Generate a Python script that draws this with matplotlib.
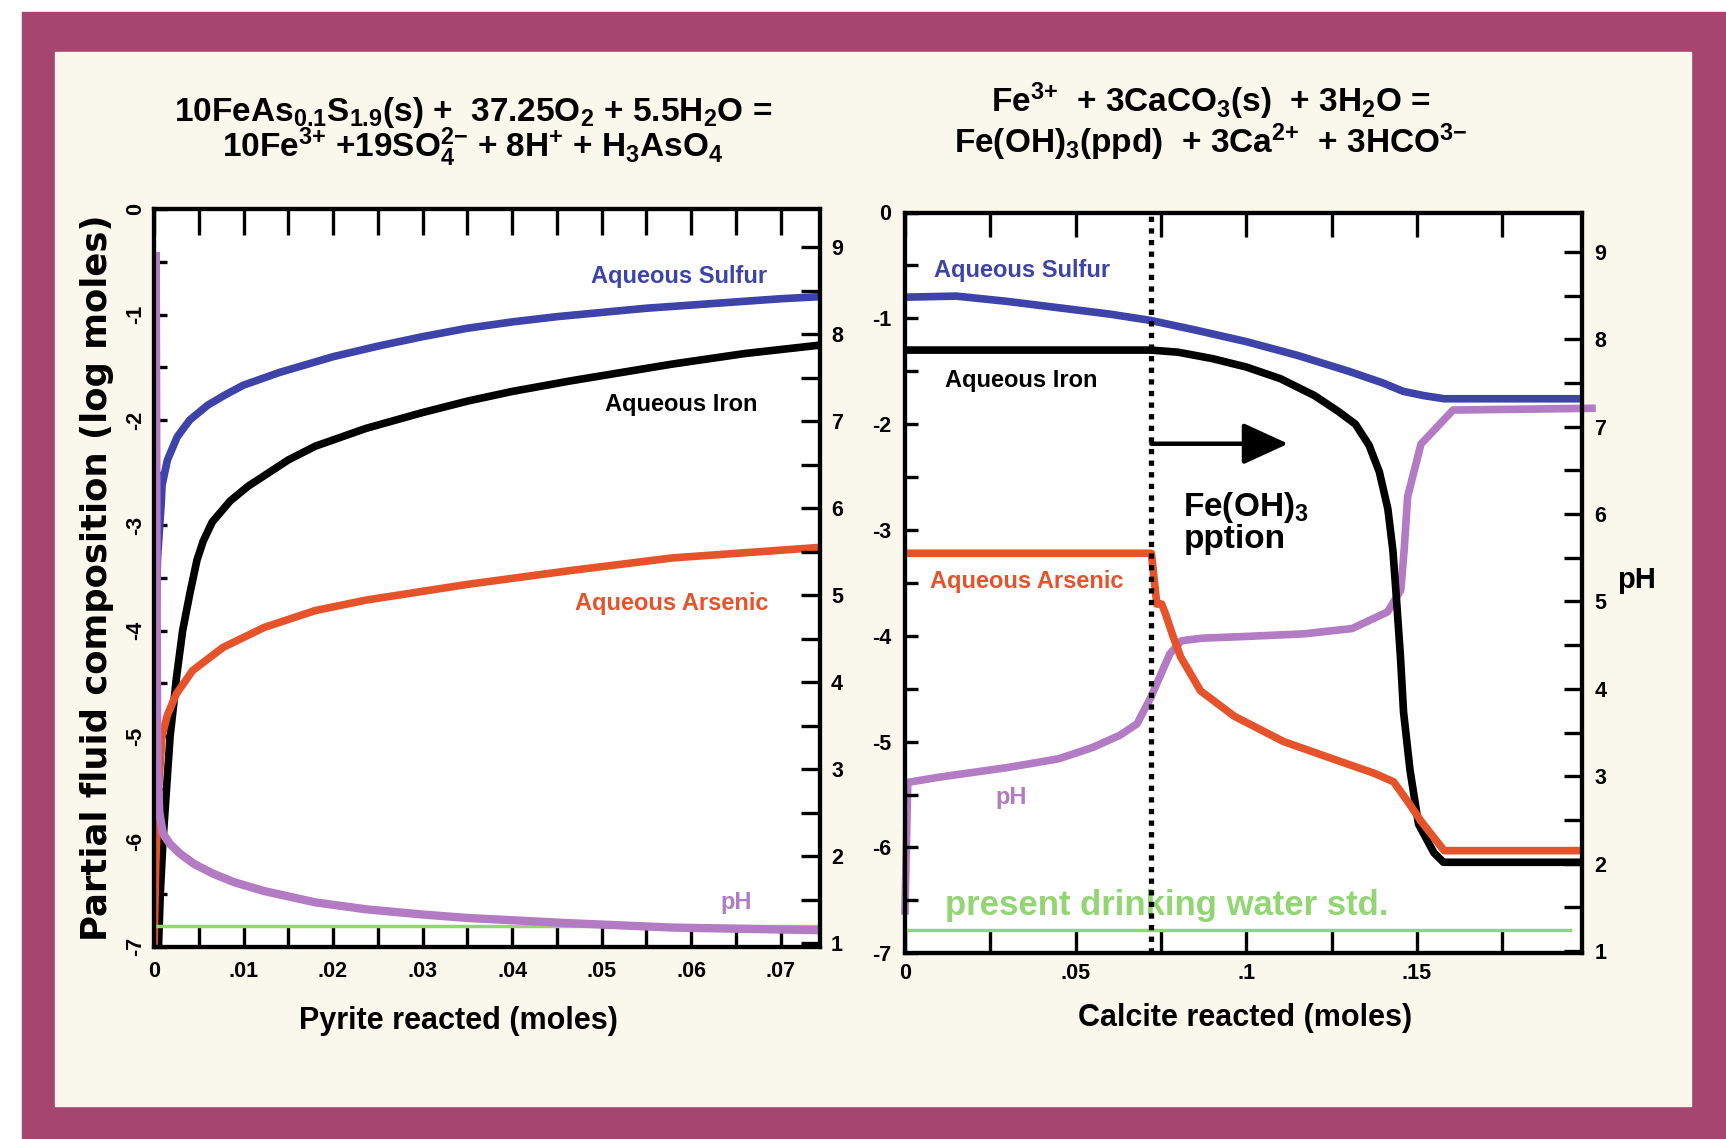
import matplotlib
matplotlib.use("Agg")
import matplotlib.pyplot as plt
from matplotlib import font_manager
from matplotlib.patches import Rectangle

# ---------------- data ----------------
# left panel: pyrite reacted (moles) vs log moles / pH
pyr_S_x = [0, 0.0001, 0.0004, 0.0008, 0.0009, 0.0015, 0.0026, 0.004, 0.006, 0.008, 0.01,
           0.014, 0.02, 0.025, 0.03, 0.035, 0.04, 0.045, 0.05, 0.055, 0.06, 0.065, 0.07, 0.0744]
pyr_S = [-5.0, -4.4, -3.3, -2.8, -2.62, -2.38, -2.16, -2.0, -1.86, -1.76, -1.67,
         -1.55, -1.4, -1.3, -1.21, -1.13, -1.07, -1.02, -0.98, -0.94, -0.91, -0.88, -0.85, -0.83]

pyr_Fe_x = [0.0005, 0.0007, 0.001, 0.0014, 0.0018, 0.0022, 0.0025, 0.0032, 0.004, 0.0048,
            0.0055, 0.0065, 0.0085, 0.0105, 0.0123, 0.015, 0.018, 0.0237, 0.03, 0.0351,
            0.04, 0.0465, 0.0579, 0.066, 0.0744]
pyr_Fe = [-7.0, -6.5, -6.0, -5.5, -5.0, -4.7, -4.45, -4.0, -3.65, -3.33,
          -3.15, -2.97, -2.77, -2.63, -2.53, -2.38, -2.25, -2.08, -1.93, -1.82,
          -1.73, -1.63, -1.47, -1.37, -1.29]

pyr_As_x = [0.0, 0.0002, 0.0005, 0.0009, 0.0015, 0.0025, 0.0043, 0.0077, 0.0123, 0.018,
            0.0237, 0.0351, 0.0465, 0.0579, 0.0744]
pyr_As = [-7.0, -6.2, -5.5, -5.0, -4.8, -4.6, -4.38, -4.16, -3.97, -3.81,
          -3.71, -3.56, -3.43, -3.31, -3.21]

pyr_pH_x = [0.0002, 0.0003, 0.00035, 0.0004, 0.0006, 0.001, 0.0018, 0.0029, 0.0045, 0.0066,
            0.009, 0.0123, 0.018, 0.0237, 0.03, 0.0351, 0.0465, 0.0579, 0.0744]
pyr_pH = [8.95, 5.0, 3.6, 3.0, 2.5, 2.26, 2.14, 2.03, 1.91, 1.8,
          1.7, 1.6, 1.47, 1.39, 1.33, 1.29, 1.23, 1.18, 1.15]

std_log = -6.8

# right panel: calcite reacted (moles)
cal_S_x = [0, 0.015, 0.03, 0.045, 0.06, 0.072, 0.085, 0.1, 0.115, 0.13, 0.14, 0.146,
           0.152, 0.158, 0.1984]
cal_S = [-0.80, -0.79, -0.84, -0.9, -0.96, -1.02, -1.11, -1.22, -1.35, -1.5, -1.61, -1.69,
         -1.73, -1.76, -1.76]

cal_Fe_x = [0, 0.072, 0.08, 0.09, 0.1, 0.11, 0.12, 0.127, 0.132, 0.136, 0.139, 0.1415,
            0.143, 0.144, 0.1452, 0.1461, 0.148, 0.1505, 0.155, 0.1578, 0.1984]
cal_Fe = [-1.3, -1.3, -1.32, -1.38, -1.46, -1.57, -1.73, -1.88, -2.0, -2.2, -2.45, -2.8,
          -3.2, -3.64, -4.2, -4.72, -5.27, -5.78, -6.05, -6.14, -6.14]

cal_As_x = [0, 0.0722, 0.0738, 0.0752, 0.0762, 0.0785, 0.0808, 0.0866, 0.0965, 0.111,
            0.126, 0.1376, 0.1432, 0.1472, 0.1512, 0.158, 0.1984]
cal_As = [-3.22, -3.22, -3.7, -3.7, -3.78, -4.0, -4.2, -4.52, -4.76, -5.0,
          -5.17, -5.3, -5.38, -5.56, -5.75, -6.03, -6.03]

cal_pH_x = [0, 0.0008, 0.01, 0.03, 0.045, 0.055, 0.063, 0.068, 0.072, 0.0776, 0.081,
            0.087, 0.1, 0.117, 0.131, 0.1414, 0.1453, 0.1463, 0.1473, 0.1512, 0.1606, 0.2013]
cal_pH = [1.46, 2.93, 2.99, 3.1, 3.2, 3.33, 3.47, 3.6, 3.9, 4.4, 4.55,
          4.58, 4.6, 4.63, 4.69, 4.88, 5.13, 5.6, 6.2, 6.8, 7.19, 7.21]

calcite_ppt_start = 0.0722
arrow_end = 0.1123
arrow_log = -2.185

pyr_xticks = [0, 0.01, 0.02, 0.03, 0.04, 0.05, 0.06, 0.07]
pyr_xlabels = ['0', '.01', '.02', '.03', '.04', '.05', '.06', '.07']
pyr_xminor = [0.005, 0.015, 0.025, 0.035, 0.045, 0.055, 0.065]
cal_xticks = [0, 0.05, 0.1, 0.15]
cal_xlabels = ['0', '.05', '.1', '.15']
cal_xminor = [0.025, 0.075, 0.125, 0.175]
log_ticks = [-7, -6, -5, -4, -3, -2, -1, 0]
log_labels = ['-7', '-6', '-5', '-4', '-3', '-2', '-1', '0']
log_minor = [-6.5, -5.5, -4.5, -3.5, -2.5, -1.5, -0.5]
ph_ticks = [1, 2, 3, 4, 5, 6, 7, 8, 9]
ph_labels = ['1', '2', '3', '4', '5', '6', '7', '8', '9']
ph_minor = [1.5, 2.5, 3.5, 4.5, 5.5, 6.5, 7.5, 8.5]

# colours
FRAME = '#A6456F'
CREAM = '#FAF8EC'
BLUE = '#3D43A8'
ORANGE = '#E6532A'
PURPLE = '#B37BC3'
GREEN = '#92D573'

# fonts (a narrow face if there is one, else plain Liberation Sans a bit smaller)
names = {f.name for f in font_manager.fontManager.ttflist}
SANS = 'Liberation Sans'
if 'Liberation Sans Narrow' in names:
    NARROW = 'Liberation Sans Narrow'
    sizes = dict(tick=17, curve=20, xlab=26)
else:
    NARROW = SANS
    sizes = dict(tick=15.5, curve=17, xlab=22)
plt.rcParams['font.family'] = [SANS, 'DejaVu Sans']
plt.rcParams['mathtext.default'] = 'regular'

tick_font = dict(family=NARROW, size=sizes['tick'], weight='bold')
curve_font = dict(family=NARROW, size=sizes['curve'], weight='bold')
xlab_font = dict(family=NARROW, size=sizes['xlab'], weight='bold')
title_font = dict(family=SANS, size=24, weight='bold')

W, H = 1726, 1139
fig = plt.figure(figsize=(W / 100, H / 100), dpi=100)
fig.patch.set_facecolor('white')
fig.add_artist(Rectangle((22 / W, 0), 1, 1 - 12 / H, transform=fig.transFigure,
                         color=FRAME, zorder=-2))
fig.add_artist(Rectangle((55 / W, 1 - 1106 / H), (1691 - 55) / W, (1106 - 52) / H,
                         transform=fig.transFigure, color=CREAM, zorder=-1))


def style_axes(ax, axr, lens, pads):
    for a in (ax, axr):
        for sp in a.spines.values():
            sp.set_linewidth(3)
    ax.tick_params(axis='x', which='both', direction='in', top=True, bottom=True,
                   length=lens[0], width=2.4, pad=pads[0])
    for t in ax.xaxis.get_major_ticks() + ax.xaxis.get_minor_ticks():
        t.tick2line.set_markersize(lens[1])
    ax.tick_params(axis='y', which='both', direction='in', left=True, right=False,
                   length=lens[2], width=2.4, pad=pads[1])
    axr.tick_params(axis='y', which='both', direction='in', right=True, left=False,
                    length=lens[3], width=2.4, pad=pads[2])


# ---------------- left panel ----------------
ax1 = fig.add_axes([154 / W, 1 - 946.7 / H, 666 / W, 737.5 / H])
ax1r = ax1.twinx()
ax1.set_xlim(0, 0.0744)
ax1.set_ylim(-7, 0)
ax1r.set_ylim(0.96, 9.44)

ax1.plot(pyr_S_x, pyr_S, color=BLUE, lw=5.5, solid_capstyle='butt')
ax1.plot(pyr_Fe_x, pyr_Fe, color='black', lw=5.5, solid_capstyle='butt')
ax1.plot(pyr_As_x, pyr_As, color=ORANGE, lw=5.5, solid_capstyle='butt')
ax1.plot([0, 0.0744], [std_log, std_log], color=GREEN, lw=2.5)
ax1r.plot(pyr_pH_x, pyr_pH, color=PURPLE, lw=6, solid_capstyle='butt')

ax1.text(0.0685, -0.64, 'Aqueous Sulfur', color=BLUE, ha='right', va='center', **curve_font)
ax1.text(0.0674, -1.85, 'Aqueous Iron', color='black', ha='right', va='center', **curve_font)
ax1.text(0.0686, -3.74, 'Aqueous Arsenic', color=ORANGE, ha='right', va='center', **curve_font)
ax1.text(0.065, -6.58, 'pH', color=PURPLE, ha='center', va='center', **curve_font)

ax1.set_xticks(pyr_xticks)
ax1.set_xticklabels(pyr_xlabels, **tick_font)
ax1.set_xticks(pyr_xminor, minor=True)
ax1.set_yticks(log_ticks)
ax1.set_yticklabels(log_labels, rotation=90, va='center', **tick_font)
ax1.set_yticks(log_minor, minor=True)
ax1r.set_yticks(ph_ticks)
ax1r.set_yticklabels(ph_labels, **tick_font)
ax1r.set_yticks(ph_minor, minor=True)
style_axes(ax1, ax1r, lens=(15, 19, 9, 14), pads=(10, 6, 8))

# ---------------- right panel ----------------
ax2 = fig.add_axes([905 / W, 1 - 953.3 / H, 677 / W, 740.8 / H])
ax2r = ax2.twinx()
ax2.set_zorder(ax2r.get_zorder() + 1)
ax2.patch.set_visible(False)
ax2r.patch.set_visible(True)
ax2r.patch.set_facecolor('white')
ax2.set_xlim(0, 0.1984)
ax2.set_ylim(-7, 0)
ax2r.set_ylim(0.975, 9.45)

ax2.plot(cal_S_x, cal_S, color=BLUE, lw=5.5)
ax2.plot(cal_Fe_x, cal_Fe, color='black', lw=5.5)
ax2.plot(cal_As_x, cal_As, color=ORANGE, lw=5.5)
ax2.plot([0.001, 0.195], [-6.78, -6.78], color=GREEN, lw=2.5)
ax2r.plot(cal_pH_x, cal_pH, color=PURPLE, lw=5.5, clip_on=False)
ax2.axvline(calcite_ppt_start, color='black', lw=3.8, linestyle=(0, (1, 1.2)), zorder=5)
ax2.annotate('', xy=(arrow_end, arrow_log), xytext=(calcite_ppt_start, arrow_log),
             arrowprops=dict(arrowstyle='-|>,head_length=0.7,head_width=0.32',
                             mutation_scale=40, lw=3.2, color='black',
                             shrinkA=0, shrinkB=0))

ax2.text(0.0084, -0.55, 'Aqueous Sulfur', color=BLUE, ha='left', va='center', **curve_font)
ax2.text(0.0116, -1.59, 'Aqueous Iron', color='black', ha='left', va='center', **curve_font)
ax2.text(0.0074, -3.49, 'Aqueous Arsenic', color=ORANGE, ha='left', va='center', **curve_font)
ax2.text(0.031, -5.53, 'pH', color=PURPLE, ha='center', va='center', **curve_font)
ax2.text(0.0116, -6.55, 'present drinking water std.', color=GREEN, ha='left', va='center',
         family=SANS, size=25, weight='bold', zorder=3)
ax2.text(0.0816, -2.93, 'Fe(OH)$_3$\npption', ha='left', va='center', family=SANS,
         size=24, weight='bold', linespacing=0.95)

ax2.set_xticks(cal_xticks)
ax2.set_xticklabels(cal_xlabels, **tick_font)
ax2.set_xticks(cal_xminor, minor=True)
ax2.set_yticks(log_ticks)
ax2.set_yticklabels(log_labels, **tick_font)
ax2.set_yticks(log_minor, minor=True)
ax2r.set_yticks(ph_ticks)
ax2r.set_yticklabels(ph_labels, **tick_font)
ax2r.set_yticks(ph_minor, minor=True)
style_axes(ax2, ax2r, lens=(16, 17, 9, 13), pads=(7, 10, 9))

# ---------------- figure texts ----------------
# two-line equations; the anchor is the baseline of the second line
fig.text(473 / W, 1 - 157.5 / H,
         '10FeAs$_{0.1}$S$_{1.9}$(s) +  37.25O$_2$ + 5.5H$_2$O =\n'
         '10Fe$^{3{+}}$ +19SO$_4^{2{-}}$ + 8H$^{{+}}$ + H$_3$AsO$_4$',
         ha='center', va='baseline', linespacing=0.87, **title_font)
fig.text(1211 / W, 1 - 153 / H,
         'Fe$^{3{+}}$  + 3CaCO$_3$(s)  + 3H$_2$O =\n'
         'Fe(OH)$_3$(ppd)  + 3Ca$^{2{+}}$  + 3HCO$^{3{-}}$',
         ha='center', va='baseline', linespacing=0.975, **title_font)

fig.text(97 / W, 1 - 578 / H, 'Partial fluid composition (log moles)', rotation=90,
         ha='center', va='center', family='DejaVu Sans', size=25.5, weight='bold')
fig.text(458 / W, 1 - 1021.5 / H, 'Pyrite reacted (moles)', ha='center', va='center',
         **xlab_font)
fig.text(1245 / W, 1 - 1018 / H, 'Calcite reacted (moles)', ha='center', va='center',
         **xlab_font)
fig.text(1637 / W, 1 - 580 / H, 'pH', ha='center', va='center', family=SANS, size=21,
         weight='bold')

fig.savefig('out.png', dpi=100, facecolor=fig.get_facecolor())
